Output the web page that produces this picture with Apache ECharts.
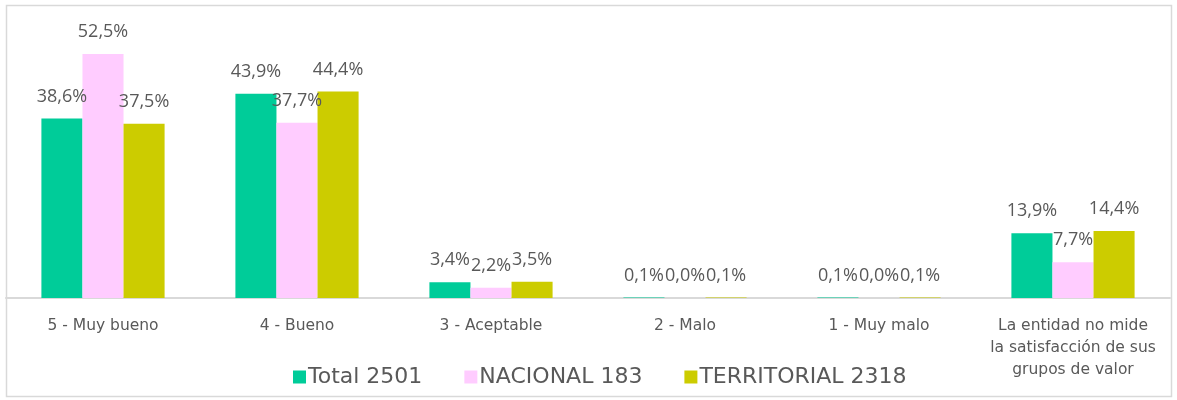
<!DOCTYPE html>
<html><head><meta charset="utf-8">
<script src="https://cdn.jsdelivr.net/npm/echarts@6/dist/echarts.min.js"></script>
<style>html,body{margin:0;padding:0;background:#fff}#c{width:1177px;height:400px;box-sizing:border-box}</style>
</head><body><div id="c"></div>
<script>
const categories = ['5 - Muy bueno','4 - Bueno','3 - Aceptable','2 - Malo','1 - Muy malo','La entidad no mide\nla satisfacción de sus\ngrupos de valor'];
const seriesNames = ['Total 2501','NACIONAL 183','TERRITORIAL 2318'];
const total = [38.6, 43.9, 3.4, 0.1, 0.1, 13.9];
const nacional = [52.5, 37.7, 2.2, 0.0, 0.0, 7.7];
const territorial = [37.5, 44.4, 3.5, 0.1, 0.1, 14.4];
const colors = ['#00CC99','#FFCCFF','#CCCC00'];
const chart = echarts.init(document.getElementById('c'));
const lbl = {show:true, position:'top', distance:13, color:'#595959', fontSize:18, fontFamily:'Open Sans',
  formatter: p => p.value.toFixed(1).replace('.', ',') + '%'};
chart.setOption({
  animation:false,
  graphic:[{type:'rect', shape:{x:6.5,y:5.5,width:1165,height:391}, style:{fill:'none', stroke:'#d9d9d9', lineWidth:1.5}}],
  grid:{left:6, right:7, top:19, bottom:102},
  legend:{bottom:7, left:288, itemWidth:13, itemHeight:13, itemGap:42, icon:'rect',
    textStyle:{fontSize:22, color:'#595959', fontFamily:'DejaVu Sans', padding:[0,0,0,-3]}},
  xAxis:{type:'category', data:categories, axisTick:{show:false},
    axisLine:{lineStyle:{color:'#d9d9d9', width:2}},
    axisLabel:{color:'#595959', fontSize:15.5, fontFamily:'DejaVu Sans', margin:17, lineHeight:22, interval:0}},
  yAxis:{type:'value', min:0, max:60, show:false, splitLine:{show:false}},
  series:[
    {name:seriesNames[0], type:'bar', data:total, itemStyle:{color:colors[0]}, label:lbl, barGap:'0%', barCategoryGap:'36.5%'},
    {name:seriesNames[1], type:'bar', data:nacional, itemStyle:{color:colors[1]}, label:lbl},
    {name:seriesNames[2], type:'bar', data:territorial, itemStyle:{color:colors[2]}, label:lbl}
  ]
});
</script></body></html>
